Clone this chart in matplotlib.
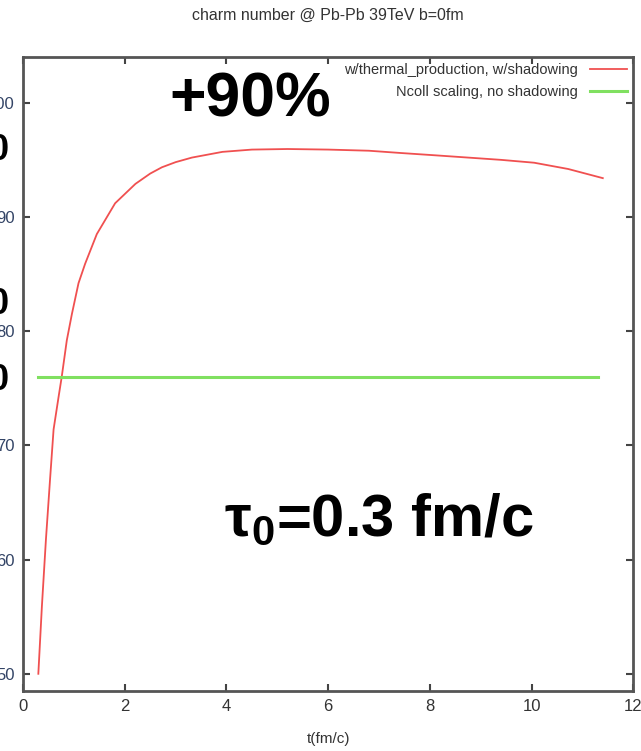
import matplotlib.pyplot as plt

plt.rcParams.update({'font.family': ['Liberation Sans', 'DejaVu Sans'],
                     'mathtext.fontset': 'custom',
                     'mathtext.rm': 'Liberation Sans:bold',
                     'mathtext.it': 'Liberation Sans:bold',
                     'mathtext.bf': 'Liberation Sans:bold'})

# charm number vs time, thermal production with shadowing
t_thermal = [0.3, 0.37, 0.45, 0.53, 0.60, 0.70, 0.76, 0.86, 0.96, 1.09, 1.22,
             1.45, 1.81, 2.21, 2.5, 2.73, 3.0, 3.32, 3.92, 4.5, 5.2, 6.0, 6.8,
             7.43, 8.1, 8.75, 9.4, 10.05, 10.72, 11.4]
n_thermal = [50.0, 55.9, 61.8, 67.0, 71.4, 74.3, 76.0, 79.2, 81.5, 84.2, 85.9,
             88.5, 91.2, 92.9, 93.8, 94.35, 94.8, 95.2, 95.7, 95.9, 95.95, 95.9,
             95.8, 95.6, 95.4, 95.2, 95.0, 94.75, 94.2, 93.4]

# Ncoll scaling, constant
t_ncoll = [0.3, 11.3]
n_ncoll = [76.0, 76.0]

xticks = [0, 2, 4, 6, 8, 10, 12]
yticks = [50, 60, 70, 80, 90, 100]

fig = plt.figure(figsize=(6.41, 7.51), dpi=100)
ax = fig.add_axes([0.036, 0.080, 0.952, 0.844])

ax.plot(t_thermal, n_thermal, color='#f05050', lw=1.3,
        label='w/thermal_production, w/shadowing')
ax.plot(t_ncoll, n_ncoll, color='#80e060', lw=2.2,
        label='Ncoll scaling, no shadowing')

ax.set_xlim(0, 12)
ax.set_ylim(48.5, 104)
ax.set_xticks(xticks)
ax.set_yticks(yticks)
ax.tick_params(direction='in', top=True, right=True, length=5, width=1.5,
               color='#444444', labelsize=12, pad=6)
ax.tick_params(axis='y', labelcolor='#334466')
ax.tick_params(axis='x', labelcolor='#333333')
for s in ax.spines.values():
    s.set_linewidth(2)
    s.set_color('#555555')

ax.set_xlabel('t(fm/c)', fontsize=11, color='#333333', labelpad=13)
ax.set_title('charm number @ Pb-Pb 39TeV b=0fm', fontsize=11.5,
             color='#333333', pad=27)

leg = ax.legend(loc='upper right', frameon=False, markerfirst=False,
                fontsize=10.5, handlelength=2.6, borderaxespad=0.0,
                labelspacing=0.55)
for txt in leg.get_texts():
    txt.set_ha('right')
    txt.set_color('#333333')

fig.text(0.39, 0.867, '+90%', fontsize=45, fontweight='bold',
         ha='center', va='center')
fig.text(0.591, 0.308, r'τ$_\mathbf{0}$=0.3 fm/c', fontsize=43,
         fontweight='bold', ha='center', va='center')

# slide text cut off at the left edge
for yy in [0.800, 0.594, 0.494]:
    fig.text(0.014, yy, '0', fontsize=26, fontweight='bold',
             ha='right', va='center')

fig.savefig('out.png', dpi=100)
